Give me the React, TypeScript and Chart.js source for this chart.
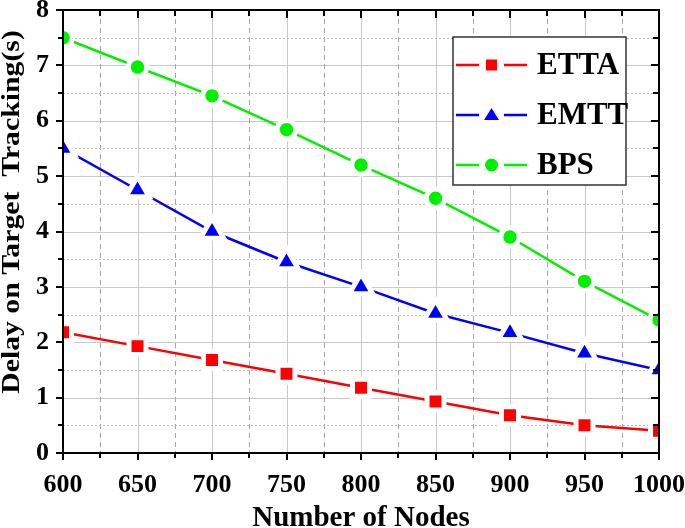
import React, { useEffect, useRef } from 'react';
import { Chart, registerables } from 'chart.js';

Chart.register(...registerables);

const nodeCounts = [600, 650, 700, 750, 800, 850, 900, 950, 1000];
const ettaDelay = [2.18, 1.93, 1.68, 1.43, 1.18, 0.93, 0.68, 0.5, 0.4];
const emttDelay = [5.5, 4.75, 4.0, 3.45, 3.0, 2.52, 2.17, 1.8, 1.5];
const bpsDelay = [7.5, 6.97, 6.45, 5.84, 5.2, 4.6, 3.9, 3.1, 2.4];
const seriesNames = ['ETTA', 'EMTT', 'BPS'];
const xTickValues = [600, 650, 700, 750, 800, 850, 900, 950, 1000];
const yTickValues = [0, 1, 2, 3, 4, 5, 6, 7, 8];
const xAxisTitle = 'Number of Nodes';
const yAxisTitle = 'Delay on Target  Tracking(s)';

const FONT = "'Liberation Serif', 'Times New Roman', serif";

const mids = (arr: number[]) => arr.slice(1).map((v, i) => (arr[i] + v) / 2);

function drawMarker(ctx: CanvasRenderingContext2D, style: string, x: number, y: number, color: string) {
  ctx.fillStyle = color;
  ctx.beginPath();
  if (style === 'rect') {
    ctx.rect(x - 5.5, y - 5.5, 11, 11);
  } else if (style === 'triangle') {
    ctx.moveTo(x, y - 7);
    ctx.lineTo(x + 7.5, y + 5);
    ctx.lineTo(x - 7.5, y + 5);
    ctx.closePath();
  } else {
    ctx.arc(x, y, 6.5, 0, Math.PI * 2);
  }
  ctx.fill();
}

const decor = {
  id: 'decor',
  beforeDatasetsDraw(chart: any) {
    const { ctx, chartArea: a, scales } = chart;
    const x = scales.x;
    const y = scales.y;
    ctx.save();
    ctx.beginPath();
    ctx.rect(a.left, a.top, a.right - a.left, a.bottom - a.top);
    ctx.clip();
    ctx.lineWidth = 1;
    const vline = (px: number) => {
      ctx.beginPath();
      ctx.moveTo(px, a.top);
      ctx.lineTo(px, a.bottom);
      ctx.stroke();
    };
    const hline = (py: number) => {
      ctx.beginPath();
      ctx.moveTo(a.left, py);
      ctx.lineTo(a.right, py);
      ctx.stroke();
    };
    ctx.strokeStyle = '#c8c8c8';
    ctx.setLineDash([]);
    xTickValues.forEach((v) => vline(Math.round(x.getPixelForValue(v)) + 0.5));
    yTickValues.forEach((v) => hline(Math.round(y.getPixelForValue(v)) + 0.5));
    ctx.strokeStyle = '#a6a6a6';
    ctx.setLineDash([5, 4]);
    mids(xTickValues).forEach((v) => vline(Math.round(x.getPixelForValue(v)) + 0.5));
    ctx.strokeStyle = '#bdbdbd';
    ctx.setLineDash([2, 2]);
    mids(yTickValues).forEach((v) => hline(Math.round(y.getPixelForValue(v)) + 0.5));
    ctx.restore();
  },
  afterDatasetsDraw(chart: any) {
    const { ctx, chartArea: a, scales } = chart;
    const x = scales.x;
    const y = scales.y;
    ctx.save();
    ctx.strokeStyle = '#000';
    ctx.lineWidth = 2;
    ctx.setLineDash([]);
    const seg = (x1: number, y1: number, x2: number, y2: number) => {
      ctx.beginPath();
      ctx.moveTo(x1, y1);
      ctx.lineTo(x2, y2);
      ctx.stroke();
    };
    const doX = (vals: number[], len: number) => {
      vals.forEach((v) => {
        const px = Math.round(x.getPixelForValue(v));
        seg(px, a.bottom, px, a.bottom + len);
        seg(px, a.top, px, a.top + len + 1);
      });
    };
    const doY = (vals: number[], len: number) => {
      vals.forEach((v) => {
        const py = Math.round(y.getPixelForValue(v));
        seg(a.left, py, a.left - len, py);
        seg(a.right, py, a.right - len - 1, py);
      });
    };
    doX(xTickValues, 7);
    doX(mids(xTickValues), 5);
    doY(yTickValues, 7);
    doY(mids(yTickValues), 5);
    ctx.strokeRect(a.left, a.top, a.right - a.left, a.bottom - a.top);
    ctx.restore();
  },
  afterDraw(chart: any) {
    const { ctx, chartArea: a } = chart;
    ctx.save();
    // legend
    const bx = a.right - 206;
    const by = a.top + 27;
    const bw = 173;
    const bh = 148;
    ctx.fillStyle = '#fff';
    ctx.fillRect(bx, by, bw, bh);
    ctx.strokeStyle = '#333';
    ctx.lineWidth = 1.5;
    ctx.strokeRect(bx, by, bw, bh);
    chart.data.datasets.forEach((ds: any, i: number) => {
      const ry = by + 28 + i * 50;
      ctx.strokeStyle = ds.borderColor;
      ctx.lineWidth = 2.5;
      ctx.beginPath();
      ctx.moveTo(bx + 3, ry);
      ctx.lineTo(bx + 26, ry);
      ctx.moveTo(bx + 51, ry);
      ctx.lineTo(bx + 74, ry);
      ctx.stroke();
      drawMarker(ctx, ds.pointStyle, bx + 38.5, ry, ds.borderColor);
      ctx.fillStyle = '#000';
      ctx.font = `bold 31px ${FONT}`;
      ctx.textAlign = 'left';
      ctx.textBaseline = 'middle';
      ctx.fillText(ds.label, bx + 84, ry + 1);
    });
    // x title
    ctx.fillStyle = '#000';
    ctx.font = `bold 29px ${FONT}`;
    ctx.textAlign = 'center';
    ctx.textBaseline = 'alphabetic';
    ctx.fillText(xAxisTitle, (a.left + a.right) / 2, 526);
    // y title
    ctx.save();
    ctx.translate(19, 212);
    ctx.rotate(-Math.PI / 2);
    ctx.scale(1.19, 1);
    ctx.font = `bold 25px ${FONT}`;
    ctx.textAlign = 'center';
    ctx.textBaseline = 'alphabetic';
    ctx.fillText(yAxisTitle, 0, 0);
    ctx.restore();
    ctx.restore();
  },
};

export default function App() {
  const ref = useRef<HTMLCanvasElement>(null);
  useEffect(() => {
    const mk = (vals: number[]) => nodeCounts.map((n, i) => ({ x: n, y: vals[i] }));
    const tickFont = { family: FONT, size: 26, weight: 'bold' as const };
    const chart = new Chart(ref.current as HTMLCanvasElement, {
      type: 'line',
      data: {
        datasets: [
          {
            label: seriesNames[0],
            data: mk(ettaDelay),
            borderColor: '#ff0000',
            backgroundColor: '#ff0000',
            pointBackgroundColor: '#ff0000',
            pointBorderColor: '#ffffff',
            pointBorderWidth: 5,
            pointStyle: 'rect',
            pointRadius: 12,
            borderWidth: 2.5,
            clip: 0,
          },
          {
            label: seriesNames[1],
            data: mk(emttDelay),
            borderColor: '#0000ff',
            backgroundColor: '#0000ff',
            pointBackgroundColor: '#0000ff',
            pointBorderColor: '#ffffff',
            pointBorderWidth: 5,
            pointStyle: 'triangle',
            pointRadius: 13.5,
            borderWidth: 2.5,
            clip: 0,
          },
          {
            label: seriesNames[2],
            data: mk(bpsDelay),
            borderColor: '#00f000',
            backgroundColor: '#00f000',
            pointBackgroundColor: '#00f000',
            pointBorderColor: '#ffffff',
            pointBorderWidth: 5,
            pointStyle: 'circle',
            pointRadius: 9.2,
            borderWidth: 2.5,
            clip: 0,
          },
        ] as any,
      },
      options: {
        responsive: false,
        animation: false,
        devicePixelRatio: 1,
        layout: { autoPadding: false, padding: { top: 10, right: 26, left: 0, bottom: 0 } },
        plugins: { legend: { display: false }, tooltip: { enabled: false } },
        scales: {
          x: {
            type: 'linear',
            min: 600,
            max: 1000,
            afterBuildTicks: (s: any) => {
              s.ticks = xTickValues.map((v) => ({ value: v }));
            },
            afterFit: (s: any) => {
              s.height = 75;
              s.paddingLeft = 0;
              s.paddingRight = 0;
            },
            grid: { display: false, drawTicks: false },
            border: { display: false },
            ticks: {
              font: tickFont,
              color: '#000',
              padding: 17,
              maxRotation: 0,
              autoSkip: false,
              callback: (v: any) => String(v),
            },
          },
          y: {
            type: 'linear',
            min: 0,
            max: 8,
            afterBuildTicks: (s: any) => {
              s.ticks = yTickValues.map((v) => ({ value: v }));
            },
            afterFit: (s: any) => {
              s.width = 63;
              s.paddingTop = 0;
              s.paddingBottom = 0;
            },
            grid: { display: false, drawTicks: false },
            border: { display: false },
            ticks: {
              font: tickFont,
              color: '#000',
              padding: 14,
              autoSkip: false,
              callback: (v: any) => String(v),
            },
          },
        },
      } as any,
      plugins: [decor],
    });
    return () => chart.destroy();
  }, []);
  return (
    <div style={{ position: 'absolute', left: 0, top: 0, width: 685, height: 528, background: '#fff' }}>
      <canvas ref={ref} width={685} height={528} style={{ display: 'block' }} />
    </div>
  );
}
